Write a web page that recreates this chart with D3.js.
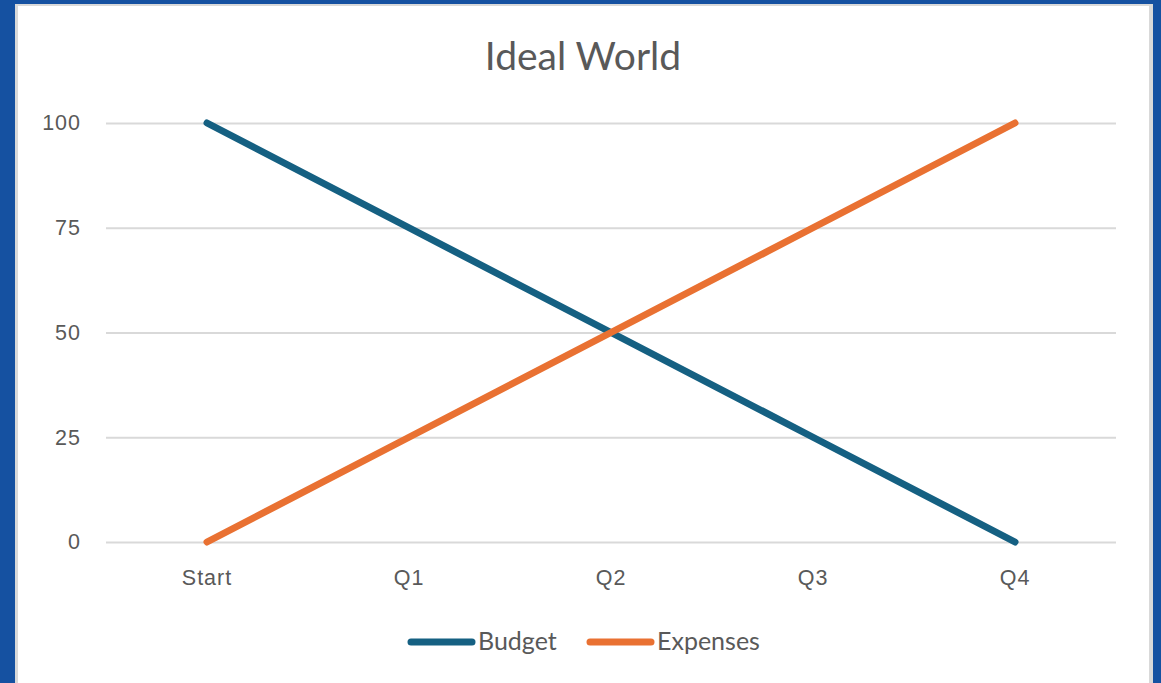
<!DOCTYPE html>
<html><head><meta charset="utf-8">
<script src="https://cdn.jsdelivr.net/npm/d3@7/dist/d3.min.js"></script>
<style>html,body{margin:0;padding:0;background:#1551a1;overflow:hidden}</style>
</head><body>
<svg id="c" width="1161" height="683"></svg>
<script>
const categories = ["Start","Q1","Q2","Q3","Q4"];
const budget = [100,75,50,25,0];
const expenses = [0,25,50,75,100];
const yTicks = [0,25,50,75,100];
const seriesNames = ["Budget","Expenses"];
const colors = ["#156082","#E97132"];

const svg = d3.select("#c");
svg.append("rect").attr("x",0).attr("y",0).attr("width",1161).attr("height",683).attr("fill","#1551a1");
svg.append("rect").attr("x",15).attr("y",4).attr("width",1138).attr("height",690).attr("fill","#d9d9d9");
svg.append("rect").attr("x",18).attr("y",6).attr("width",1131).attr("height",690).attr("fill","#ffffff");

const x = d3.scaleBand().domain(categories).range([106,1116]);
const y = d3.scaleLinear().domain([0,100]).range([542,123]);

svg.append("text").attr("x",583).attr("y",70).attr("text-anchor","middle")
  .attr("font-family","Lato, 'Open Sans', sans-serif").attr("font-size",39).attr("fill","#595959").text("Ideal World");

const tickFont = sel => sel.attr("font-family","'Liberation Sans', Arial, sans-serif").attr("font-size",21.5)
  .attr("letter-spacing","1px").attr("fill","#595959");

const gy = svg.append("g").attr("transform","translate(106,0)")
  .call(d3.axisLeft(y).tickValues(yTicks).tickSize(-1010).tickPadding(25));
gy.select(".domain").remove();
gy.selectAll(".tick line").attr("stroke","#d9d9d9").attr("stroke-width",2);
gy.selectAll(".tick text").call(tickFont);

const gx = svg.append("g").attr("transform","translate(0,542)")
  .call(d3.axisBottom(x).tickSize(0).tickPadding(28));
gx.select(".domain").remove();
gx.selectAll(".tick text").call(tickFont);

const line = d3.line().x((d,i)=>x(categories[i])+x.bandwidth()/2).y(d=>y(d));
[budget,expenses].forEach((s,i)=>{
  svg.append("path").attr("d",line(s)).attr("fill","none").attr("stroke",colors[i])
    .attr("stroke-width",7).attr("stroke-linecap","round").attr("stroke-linejoin","round");
});

const legX = [408,587];
seriesNames.forEach((n,i)=>{
  svg.append("line").attr("x1",legX[i]+3).attr("x2",legX[i]+64).attr("y1",642).attr("y2",642)
    .attr("stroke",colors[i]).attr("stroke-width",7).attr("stroke-linecap","round");
  svg.append("text").attr("x",legX[i]+70).attr("y",650).attr("font-family","Lato, 'Open Sans', sans-serif")
    .attr("font-size",25).attr("fill","#595959").text(n);
});
</script>
</body></html>
